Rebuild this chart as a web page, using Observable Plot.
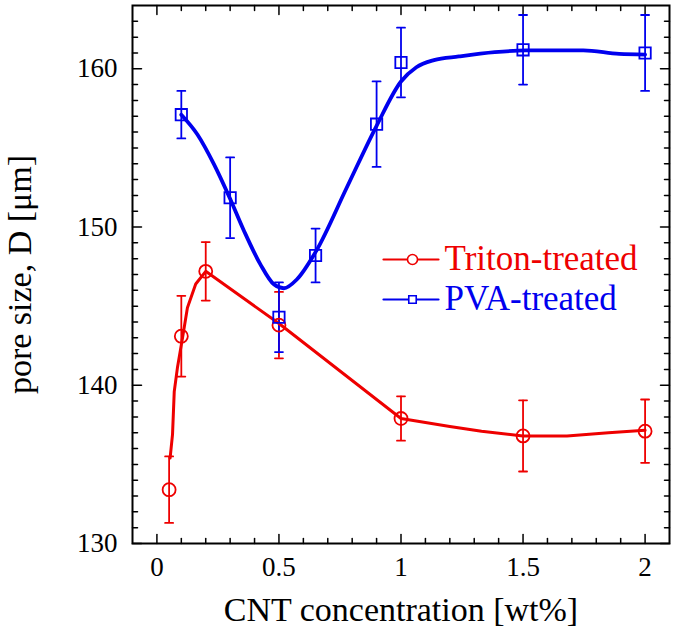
<!DOCTYPE html>
<html><head><meta charset="utf-8">
<script src="https://cdn.jsdelivr.net/npm/d3@7"></script>
<script src="https://cdn.jsdelivr.net/npm/@observablehq/plot@0.6"></script>
<style>
body{margin:0;background:#fff}
#chart svg{display:block}
#chart svg, #chart svg text, #chart svg tspan { font-family: "Liberation Serif", "Times New Roman", serif !important; }
</style>
</head><body><div id="chart"></div>
<script>
// Triton-treated measurements
const tritonX = [0.05, 0.1, 0.2, 0.5, 1, 1.5, 2];
const tritonY = [133.4, 143.1, 147.2, 143.8, 137.9, 136.8, 137.1];
const tritonErr = [2.1, 2.55, 1.85, 2.1, 1.4, 2.25, 2.0];
// Triton fitted curve
const tritonFitX = [0.054, 0.064, 0.071, 0.084, 0.105, 0.125, 0.159, 0.2, 0.5, 1, 1.1, 1.2, 1.33, 1.5, 1.68, 1.85, 2];
const tritonFitY = [135.4, 136.9, 139.6, 141.1, 143.0, 144.9, 146.4, 147.2, 143.9, 137.9, 137.65, 137.4, 137.1, 136.8, 136.8, 137.0, 137.15];
// PVA-treated measurements
const pvaX = [0.1, 0.3, 0.5, 0.65, 0.9, 1, 1.5, 2];
const pvaY = [157.1, 151.85, 144.3, 148.2, 156.5, 160.4, 161.2, 161.0];
const pvaErr = [1.5, 2.55, 2.2, 1.7, 2.7, 2.2, 2.2, 2.4];
// PVA fitted curve
const pvaFitX = [0.1, 0.166, 0.234, 0.298, 0.357, 0.424, 0.479, 0.52, 0.574, 0.653, 0.778, 0.9, 1.0, 1.063, 1.135, 1.237, 1.384, 1.512, 1.747, 1.894, 2.0];
const pvaFitY = [157.1, 155.85, 153.96, 151.85, 149.75, 147.64, 146.38, 146.13, 146.7, 148.5, 152.5, 156.4, 159.2, 160.1, 160.55, 160.78, 161.05, 161.16, 161.16, 160.94, 160.9];
// ticks
const xTicks = [0, 0.5, 1, 1.5, 2];
const yTicks = [130, 140, 150, 160];
const seriesNames = ["Triton-treated", "PVA-treated"];
const xLabel = "CNT concentration [wt%]";
const yLabel = "pore size, D [μm]";

const RED = "#ee0000", BLUE = "#0000ee";
const FONT = "Liberation Serif";

const triton = tritonX.map((x, i) => ({x, y: tritonY[i], e: tritonErr[i]}));
const pva = pvaX.map((x, i) => ({x, y: pvaY[i], e: pvaErr[i]}));
const tritonFit = tritonFitX.map((x, i) => ({x, y: tritonFitY[i]}));
const pvaFit = pvaFitX.map((x, i) => ({x, y: pvaFitY[i]}));

const xMinor = d3.range(1, 21).map(d => d / 10).filter(d => !xTicks.some(t => Math.abs(t - d) < 1e-9));
const yMinor = d3.range(131, 164).filter(d => !yTicks.includes(d));

const seg = {draw(ctx, l) { ctx.moveTo(0, 0); ctx.lineTo(0, -l); }};

function frameTicks(vals, len) {
  return [
    Plot.vector(vals, {x: d => d, frameAnchor: "bottom", rotate: 0, length: len, anchor: "start", shape: seg, stroke: "black", strokeWidth: 1.5}),
    Plot.vector(vals, {x: d => d, frameAnchor: "top", rotate: 180, length: len, anchor: "start", shape: seg, stroke: "black", strokeWidth: 1.5})
  ];
}
function frameTicksY(vals, len) {
  return [
    Plot.vector(vals, {y: d => d, frameAnchor: "left", rotate: 90, length: len, anchor: "start", shape: seg, stroke: "black", strokeWidth: 1.5}),
    Plot.vector(vals, {y: d => d, frameAnchor: "right", rotate: -90, length: len, anchor: "start", shape: seg, stroke: "black", strokeWidth: 1.5})
  ];
}
function errorBars(data, color) {
  return [
    Plot.ruleX(data, {x: "x", y1: d => d.y - d.e, y2: d => d.y + d.e, stroke: color, strokeWidth: 1.8}),
    Plot.vector(data, {x: "x", y: d => d.y + d.e, rotate: 90, length: 8, anchor: "middle", shape: seg, stroke: color, strokeWidth: 1.8}),
    Plot.vector(data, {x: "x", y: d => d.y - d.e, rotate: 90, length: 8, anchor: "middle", shape: seg, stroke: color, strokeWidth: 1.8})
  ];
}
function legendEntry(i, color, symbol, dy) {
  return [
    Plot.vector([0], {frameAnchor: "top-left", dx: 251, dy, rotate: 90, length: 55, anchor: "start", shape: seg, stroke: color, strokeWidth: 2.2}),
    Plot.dot([0], {frameAnchor: "top-left", dx: 280, dy, symbol, r: symbol === "square" ? 4.2 : 5, stroke: color, fill: "white", strokeWidth: 1.6}),
    Plot.text([seriesNames[i]], {text: d => d, frameAnchor: "top-left", dx: 312, dy: dy - 1, textAnchor: "start", lineAnchor: "middle", fontSize: 35, fill: color, fontFamily: FONT})
  ];
}

const chart = Plot.plot({
  width: 675,
  height: 638,
  marginLeft: 132,
  marginRight: 6,
  marginTop: 5,
  marginBottom: 95,
  style: "font-family: 'Liberation Serif', serif; color: black; background: white;",
  x: {domain: [-0.1, 2.1]},
  y: {domain: [130, 164]},
  marks: [
    ...frameTicks(xMinor, 5), ...frameTicks(xTicks, 9),
    ...frameTicksY(yMinor, 5), ...frameTicksY(yTicks, 9),
    Plot.axisX({ticks: xTicks, tickFormat: d => String(d), tickSize: 0, tickPadding: 13, fontSize: 27, fontFamily: FONT, label: xLabel, labelAnchor: "center", labelOffset: 77, labelArrow: "none"}),
    Plot.axisY({ticks: yTicks, tickFormat: d => String(d), tickSize: 0, tickPadding: 15, fontSize: 27, fontFamily: FONT, label: yLabel, labelAnchor: "center", labelOffset: 126, labelArrow: "none"}),
    Plot.frame({stroke: "black", strokeWidth: 2}),
    ...errorBars(triton, RED),
    ...errorBars(pva, BLUE),
    Plot.line(tritonFit, {x: "x", y: "y", stroke: RED, strokeWidth: 3, curve: "linear", strokeLinejoin: "round"}),
    Plot.line(pvaFit, {x: "x", y: "y", stroke: BLUE, strokeWidth: 3.8, curve: "monotone-x"}),
    Plot.dot(triton, {x: "x", y: "y", symbol: "circle", r: 6.5, stroke: RED, strokeWidth: 1.8}),
    Plot.dot(pva, {x: "x", y: "y", symbol: "square", r: 6.4, stroke: BLUE, strokeWidth: 1.8}),
    ...legendEntry(0, RED, "circle", 254),
    ...legendEntry(1, BLUE, "square", 294)
  ]
});
chart.querySelectorAll("[aria-label='x-axis label'], [aria-label='y-axis label']").forEach(g => g.setAttribute("font-size", 34));
chart.querySelectorAll("text").forEach(t => t.style.setProperty("font-family", "'Liberation Serif', serif", "important"));
document.getElementById("chart").appendChild(chart);
</script>
</body></html>
